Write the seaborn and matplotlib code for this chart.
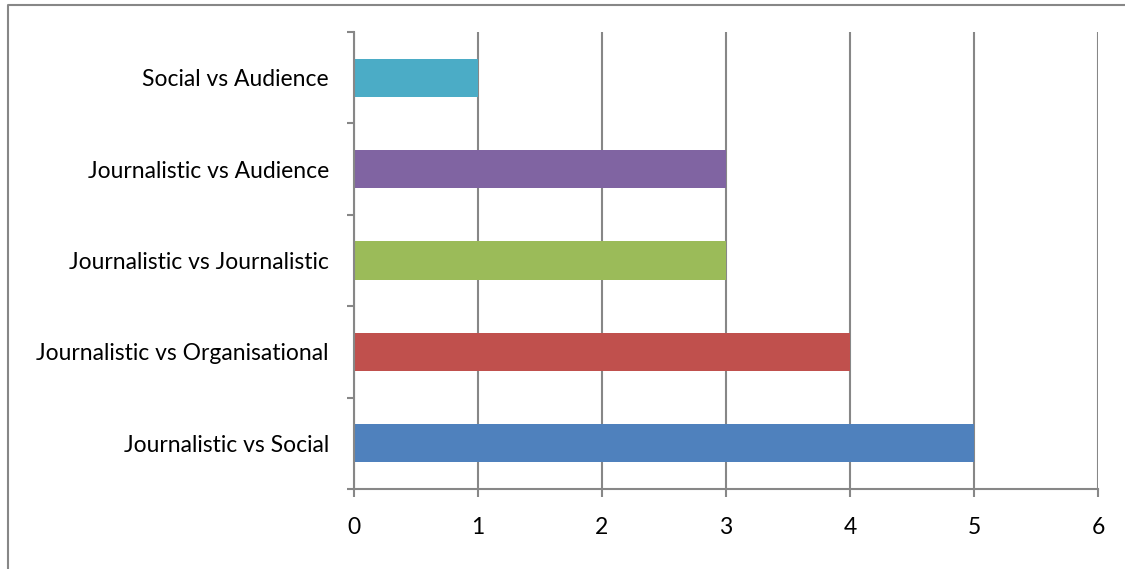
import matplotlib
matplotlib.use("Agg")
import matplotlib.pyplot as plt
from matplotlib.lines import Line2D
import seaborn as sns
import pandas as pd

categories = [
    "Social vs Audience",
    "Journalistic vs Audience",
    "Journalistic vs Journalistic",
    "Journalistic vs Organisational",
    "Journalistic vs Social",
]
counts = [1, 3, 3, 4, 5]
bar_colors = ["#4BACC6", "#8064A2", "#9BBB59", "#C0504D", "#4F81BD"]
x_ticks = [0, 1, 2, 3, 4, 5, 6]

sns.set_style("white")
plt.rcParams["font.family"] = ["Lato", "DejaVu Sans"]

df = pd.DataFrame({"category": categories, "count": counts})

fig = plt.figure(figsize=(11.25, 5.69), dpi=100)
ax = fig.add_axes([354 / 1125, 1 - 489 / 569, (1098 - 354) / 1125, (489 - 32) / 569])

grid_color = "#878787"
ax.set_axisbelow(True)
ax.grid(axis="x", color=grid_color, linewidth=1.5)
ax.grid(axis="y", visible=False)

sns.barplot(data=df, y="category", x="count", hue="category",
            palette=bar_colors, order=categories, hue_order=categories,
            width=0.42, saturation=1, legend=False, linewidth=0, ax=ax)

ax.set_xlim(0, 6)
ax.set_ylim(len(categories) - 0.5, -0.5)
ax.set_xticks(x_ticks)
ax.set_xticklabels([str(t) for t in x_ticks])
ax.set_xlabel("")
ax.set_ylabel("")

for side in ["top", "right"]:
    ax.spines[side].set_visible(False)
for side in ["left", "bottom"]:
    ax.spines[side].set_color(grid_color)
    ax.spines[side].set_linewidth(1.5)

label_size = 16.5
ax.tick_params(axis="x", which="major", direction="out", length=6, width=1.5,
               color=grid_color, labelsize=label_size, pad=14, labelcolor="black", bottom=True)
ax.set_yticks(range(len(categories)))
ax.set_yticks([i - 0.5 for i in range(len(categories) + 1)], minor=True)
ax.tick_params(axis="y", which="major", length=0, labelsize=label_size, pad=18, labelcolor="black")
ax.tick_params(axis="y", which="minor", direction="out", length=5, width=1.5,
               color=grid_color, left=True)

# Chart area frame (top and left edges)
fig.add_artist(Line2D([8 / 1125, 8 / 1125, 1.0], [0.0, 1 - 5 / 569, 1 - 5 / 569],
                      transform=fig.transFigure, color=grid_color, linewidth=1.5))

fig.savefig("out.png", dpi=100)
